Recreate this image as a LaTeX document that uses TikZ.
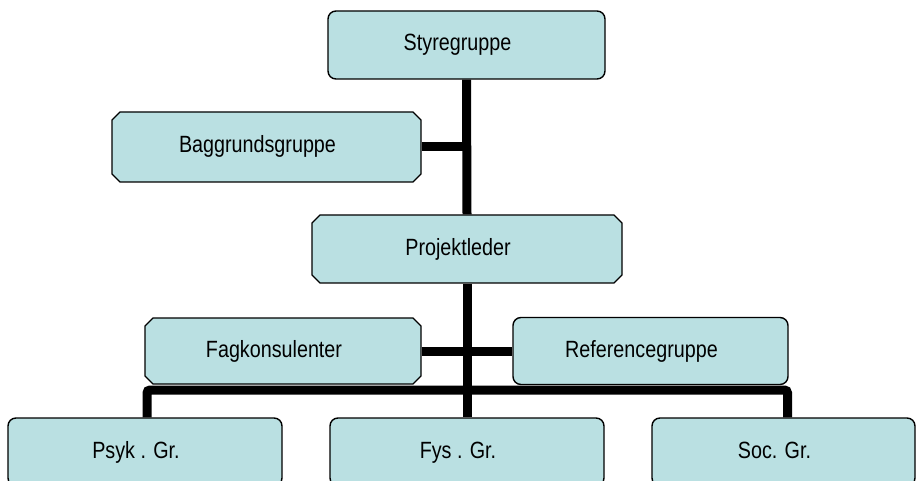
\documentclass[tikz,border=0pt]{standalone}
\usepackage{fontspec}
\setmainfont{Liberation Sans}[FakeStretch=0.84]
\usetikzlibrary{shapes.misc}
\definecolor{boxfill}{RGB}{186,224,226}
\newcommand{\boxtext}[1]{#1\hspace*{18pt}}
\begin{document}
\begin{tikzpicture}[x=1pt,y=-1pt,
  orgbox/.style={draw=black, line width=1.4pt, fill=boxfill, inner sep=0pt,
    font=\fontsize{23.5}{27}\selectfont, text height=17pt, text depth=5pt},
  roundbox/.style={orgbox, rectangle, rounded corners=8pt},
  chambox/.style={orgbox, chamfered rectangle, chamfered rectangle xsep=4pt,
    chamfered rectangle ysep=4pt},
  link/.style={line width=9pt, black}]
\useasboundingbox (0,0) rectangle (916,481);
\clip (0,0) rectangle (916,481);
\node[roundbox, minimum width=277pt, minimum height=68pt] (sty) at (466.5,45) {\boxtext{Styregruppe}};
\node[chambox, minimum width=309pt, minimum height=70pt] (bag) at (266.5,147) {\boxtext{Baggrundsgruppe}};
\node[chambox, minimum width=310pt, minimum height=68pt] (proj) at (467,249) {\boxtext{Projektleder}};
\node[chambox, minimum width=276pt, minimum height=66pt] (fag) at (283,351) {\boxtext{Fagkonsulenter}};
\node[roundbox, minimum width=275pt, minimum height=67pt] (ref) at (650.5,351) {\boxtext{Referencegruppe}};
\node[roundbox, minimum width=274pt, minimum height=68pt] (psyk) at (145,452) {\boxtext{Psyk . Gr.}};
\node[roundbox, minimum width=274pt, minimum height=68pt] (fys) at (467,452) {\boxtext{Fys . Gr.}};
\node[roundbox, minimum width=263pt, minimum height=68pt] (soc) at (783.5,452) {\boxtext{Soc. Gr.}};
\coordinate (bus) at (467,390);
\draw[link] (sty.south) -- (proj.north);
\draw[link] (bag.east) -- (bag.east -| sty.south);
\draw[link] (proj.south) -- (fys.north);
\draw[link] (fag.east) -- (ref.west);
\draw[link, rounded corners=3pt] ([xshift=2pt]psyk.north) |- (bus) -| ([xshift=4pt]soc.north);
\end{tikzpicture}
\end{document}
